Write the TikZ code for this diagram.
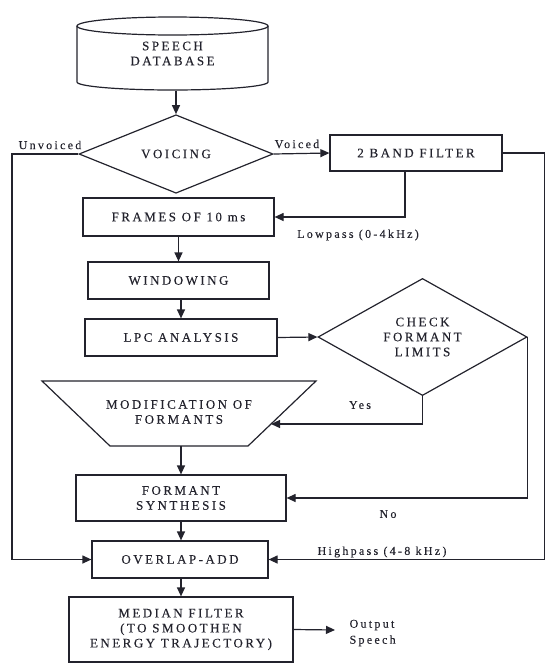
\documentclass[tikz,border=0pt]{standalone}
\usepackage{fontspec}
\setmainfont{Liberation Serif}[LetterSpace=19,FakeBold=0.15]
\usetikzlibrary{arrows.meta,shapes.geometric}
\definecolor{ink}{RGB}{35,35,45}
\begin{document}
\begin{tikzpicture}[x=1pt,y=-1pt,
  line width=1.2pt, draw=ink, text=ink,
  box/.style={draw, rectangle, inner sep=0pt, align=center, font=\fontsize{13}{15}\selectfont},
  dia/.style={draw, diamond, inner sep=0pt, align=center, font=\fontsize{13}{15}\selectfont},
  txt/.style={inner sep=0pt, align=center, font=\fontsize{13}{15}\selectfont},
  lbl/.style={inner sep=0pt, align=left, font=\fontsize{12}{16}\selectfont},
  arr/.style={-{Triangle[length=9pt,width=8pt]}},
]
\useasboundingbox (0,0) rectangle (545,664);

% speech database (cylinder)
\node[txt, minimum width=191, minimum height=73] (db) at (172.5,53.5) {SPEECH\\DATABASE};
\draw (77,26) -- (77,82) arc[start angle=180, end angle=360, x radius=95.5pt, y radius=8pt] -- (268,26);
\draw (172.5,26) ellipse [x radius=95.5pt, y radius=9pt];

\node[dia, minimum width=194, minimum height=58] (voicing) at (176,154) {VOICING};
\node[box, minimum width=172, minimum height=36] (bf) at (416,153) {2 BAND FILTER};
\node[box, minimum width=191, minimum height=38] (frames) at (178.5,217) {FRAMES OF 10 ms};
\node[box, minimum width=181, minimum height=37] (win) at (178.5,280.5) {WINDOWING};
\node[box, minimum width=192, minimum height=37] (lpc) at (181,337.5) {LPC ANALYSIS};
\node[dia, minimum width=209, minimum height=113] (check) at (422.5,337) {CHECK\\FORMANT\\LIMITS};
\draw (42,381) -- (316,381) -- (248,446) -- (110,446) -- cycle;
\node[txt] (mod) at (179,412) {MODIFICATION OF\\FORMANTS};
\node[box, minimum width=210, minimum height=46] (fs) at (181,498) {FORMANT\\SYNTHESIS};
\node[box, minimum width=176, minimum height=37] (oa) at (180,559.5) {OVERLAP-ADD};
\node[box, minimum width=224, minimum height=65] (med) at (181,629.5) {MEDIAN FILTER\\(TO SMOOTHEN\\ENERGY TRAJECTORY)};

\coordinate (uv) at (12,154);
\coordinate (hp) at (544.4,153);
\coordinate (lp) at (405,217);
\coordinate (modr) at (271,424);
\coordinate (modb) at (181,446);
\coordinate (out) at (335,630);

\draw[arr] (db.south -| voicing.north) -- (voicing.north);
\draw[arr] (voicing.west) -- (uv) |- (oa.west);
\draw[arr] (voicing.east) -- (bf.west);
\draw[arr] (bf.east) -- (hp) |- (oa.east);
\draw[arr] (bf.south -| lp) -- (lp) -- (frames.east);
\draw[arr] (frames.south) -- (frames.south |- win.north);
\draw[arr] (win.south -| lpc.north) -- (lpc.north);
\draw[arr] (lpc.east) -- (check.west);
\draw[arr] (check.south) |- (modr);
\draw[arr] (modb) -- (modb |- fs.north);
\draw[arr] (check.east) |- (fs.east);
\draw[arr] (fs.south -| modb) -- (modb |- oa.north);
\draw[arr] (oa.south -| modb) -- (modb |- med.north);
\draw[arr] (med.east) -- (out);

\node[lbl] (lunv) at (50,145) {Unvoiced};
\node[lbl] (lvoi) at (297,144) {Voiced};
\node[lbl] (llow) at (358,235) {Lowpass (0-4kHz)};
\node[lbl] (lyes) at (360,405) {Yes};
\node[lbl] (lno) at (388,514) {No};
\node[lbl] (lhigh) at (382,552) {Highpass (4-8 kHz)};
\node[lbl, anchor=west] (lout) at (349,633) {Output\\Speech};
\end{tikzpicture}
\end{document}
